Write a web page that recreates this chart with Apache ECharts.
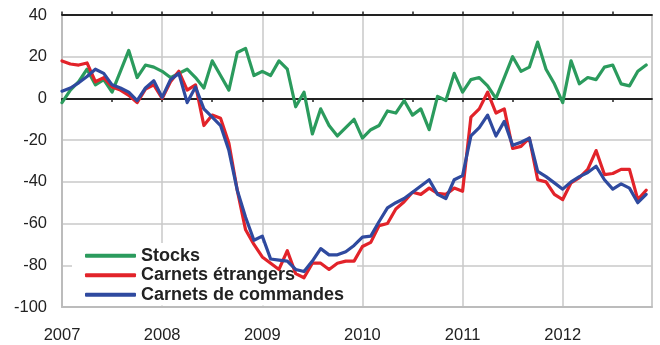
<!DOCTYPE html>
<html>
<head>
<meta charset="utf-8">
<script src="https://cdn.jsdelivr.net/npm/echarts@6/dist/echarts.min.js"></script>
<style>
  html, body { margin: 0; padding: 0; background: #fff; }
  #chart { width: 660px; height: 345px; }
</style>
</head>
<body>
<div id="chart"></div>
<script>
// Monthly balances of opinion, January 2007 to November 2012
const startYear = 2007;
const yearLabels = ['2007', '2008', '2009', '2010', '2011', '2012'];
const yTicks = [-100, -80, -60, -40, -20, 0, 20, 40];

const stocks = [
  -2, 4, 8, 14, 6.5, 9, 3, 13, 23, 10, 16, 15,
  13, 10, 12, 14, 10, 5, 18, 11, 4, 22, 24, 11,
  13, 11, 18, 14, -4, 3, -17, -5, -13, -18, -14, -10,
  -19, -15, -13, -6, -7, -1, -8, -5, -15, 1, -1, 12,
  3, 9, 10, 6, 0, 10, 20, 13, 15, 27, 14, 7,
  -2, 18, 7, 10, 9, 15, 16, 7, 6, 13, 16
];

const carnetsEtrangers = [
  18, 16.5, 16, 17, 8, 10, 5.5, 4, 1.5, -2, 4.5, 6.5,
  0, 8, 13, 4, 6.5, -13, -8, -9.5, -21.5, -44, -63, -70,
  -76, -79, -82, -73, -84, -86, -79, -79, -82, -79, -78, -78,
  -71, -69, -61, -60, -53, -49.5, -45, -46, -43, -45.5, -46, -43,
  -44.5, -9, -5, 3, -7, -5, -24, -23, -19, -39, -40, -46,
  -48.5, -40.5, -38, -34, -25, -36.5, -36, -34, -34, -48.5, -44
];

const carnetsCommandes = [
  3.5, 5, 7.5, 10.5, 14, 12, 6.5, 5, 3, -1, 5, 8.5,
  0.5, 9, 12, -2, 5.5, -5, -9, -13, -25, -44, -57, -68,
  -66, -77, -77.5, -78, -82, -83, -78, -72, -75, -75, -73.5, -70.5,
  -66.5, -66, -59, -52.5, -50, -48, -45, -42, -39, -46, -48, -39,
  -37, -18, -14, -8, -18, -11, -22.5, -21, -19, -35, -37.5, -40.5,
  -43.5, -40, -37.5, -35.5, -32.5, -39, -43.5, -41, -43, -50, -46
];

const seriesNames = ['Stocks', 'Carnets étrangers', 'Carnets de commandes'];
const seriesColors = ['#2b9b5d', '#e2232a', '#2f4a9f'];
const seriesData = [stocks, carnetsEtrangers, carnetsCommandes];

const FONT = '"Liberation Sans", Arial, Helvetica, sans-serif';
const X_MAX = 70.7;           // axis runs slightly past the last month
const halfYearTicks = [];
for (let m = 0; m < X_MAX; m += 6) halfYearTicks.push(m);

const gridRect = { left: 62, right: 8, top: 15, bottom: 38 };

const chart = echarts.init(document.getElementById('chart'), null, { renderer: 'canvas' });

chart.setOption({
  animation: false,
  backgroundColor: '#fff',
  textStyle: { fontFamily: FONT },
  grid: [
    Object.assign({
      show: true, borderColor: '#c8c8c8', borderWidth: 1.5,
      containLabel: false, outerBoundsMode: 'none'
    }, gridRect),
    Object.assign({ show: false, containLabel: false, outerBoundsMode: 'none' }, gridRect)
  ],
  legend: {
    orient: 'vertical',
    left: 72,
    top: 243,
    padding: [3, 13, 1, 13],
    backgroundColor: '#fff',
    itemGap: 0,
    itemWidth: 51,
    itemHeight: 4,
    icon: 'roundRect',
    data: seriesNames,
    textStyle: {
      fontFamily: FONT, fontSize: 18, fontWeight: 'bold',
      color: '#222', lineHeight: 19.5
    }
  },
  xAxis: [
    {
      // year labels along the bottom, with vertical year gridlines
      type: 'value', gridIndex: 0, min: 0, max: X_MAX, interval: 12,
      position: 'bottom',
      axisLine: { onZero: false, lineStyle: { color: '#bcbcbc', width: 2 } },
      axisTick: { show: false },
      axisLabel: {
        margin: 20, color: '#222', fontSize: 16.5, fontFamily: FONT,
        showMaxLabel: false,
        formatter: v => (v % 12 === 0 && yearLabels[v / 12] !== undefined) ? yearLabels[v / 12] : ''
      },
      splitLine: { show: true, lineStyle: { color: '#c8c8c8', width: 1.5 } }
    },
    {
      // zero line, ticks pointing down
      type: 'value', gridIndex: 1, min: 0, max: X_MAX, interval: 6,
      position: 'bottom',
      axisLine: { onZero: true, lineStyle: { color: '#222', width: 1.8 } },
      axisTick: { show: true, length: 3.5, customValues: halfYearTicks, lineStyle: { color: '#222', width: 1.5 } },
      axisLabel: { show: false },
      splitLine: { show: false }
    },
    {
      // zero line, ticks pointing up
      type: 'value', gridIndex: 1, min: 0, max: X_MAX, interval: 6,
      position: 'top',
      axisLine: { onZero: true, lineStyle: { color: '#222', width: 1.8 } },
      axisTick: { show: true, length: 3.5, customValues: halfYearTicks, lineStyle: { color: '#222', width: 1.5 } },
      axisLabel: { show: false },
      splitLine: { show: false }
    }
  ],
  yAxis: [
    {
      type: 'value', gridIndex: 0,
      min: yTicks[0], max: yTicks[yTicks.length - 1], interval: 20,
      axisLine: { show: true, lineStyle: { color: '#bcbcbc', width: 2 } },
      axisTick: { show: false },
      axisLabel: { margin: 15, color: '#222', fontSize: 16.5, fontFamily: FONT },
      splitLine: { show: true, lineStyle: { color: '#c8c8c8', width: 1.5 } }
    },
    {
      type: 'value', gridIndex: 1,
      min: yTicks[0], max: yTicks[yTicks.length - 1], interval: 20,
      show: false
    }
  ],
  series: seriesNames.map((name, s) => ({
    name,
    type: 'line',
    xAxisIndex: 0,
    yAxisIndex: 0,
    data: seriesData[s].map((v, i) => [i, v]),
    symbol: 'none',
    smooth: false,
    color: seriesColors[s],
    lineStyle: { color: seriesColors[s], width: 3.2, join: 'round', cap: 'round' },
    z: 3 + s
  }))
});
</script>
</body>
</html>
